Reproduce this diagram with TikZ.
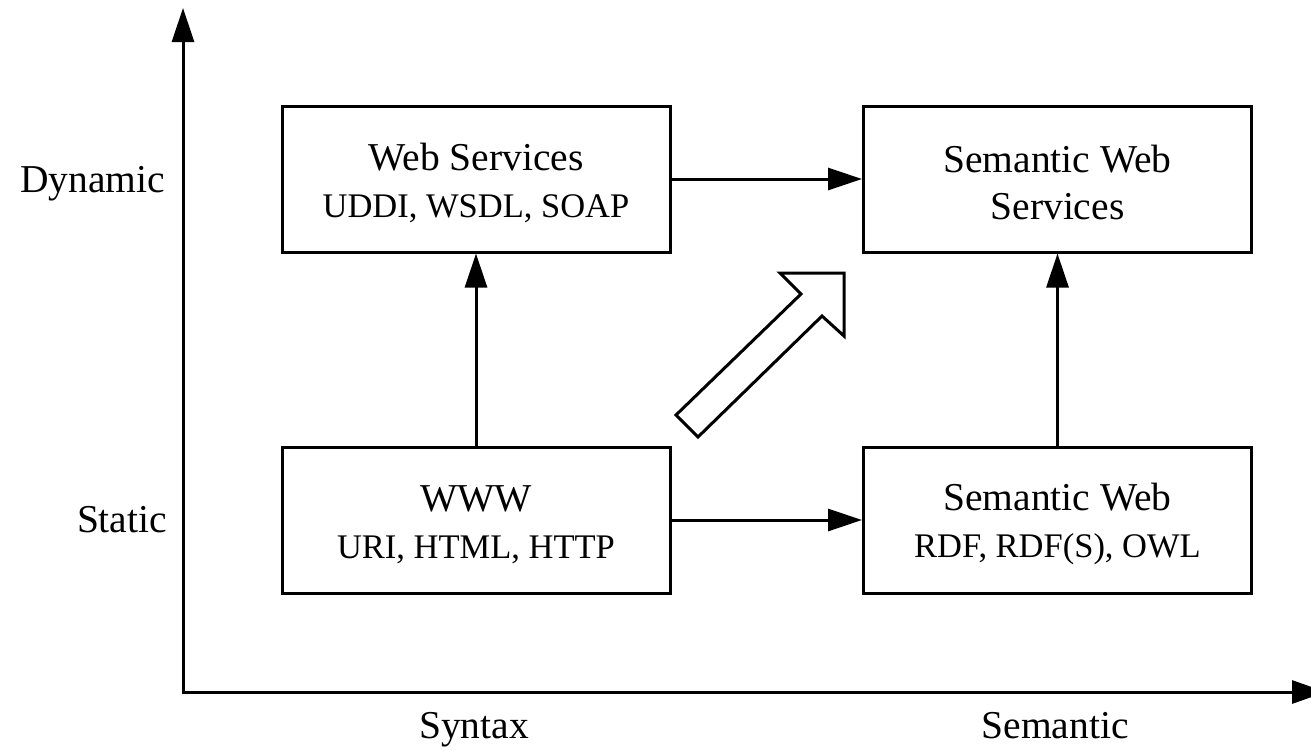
\documentclass[tikz,border=0pt]{standalone}
\usepackage{fontspec}
\setmainfont{Liberation Serif}
\usetikzlibrary{arrows.meta}

% tall strut for the first line of a box label
\newcommand{\topstrut}{\rule{0pt}{35pt}}

\begin{document}
\begin{tikzpicture}[x=1pt,y=-1pt,
  box/.style={draw, line width=3pt, minimum width=388pt, minimum height=146pt,
    inner sep=0pt, align=center, font=\fontsize{39.5}{47}\selectfont},
  conn/.style={line width=3pt, -{Triangle[length=34pt,width=22pt]}},
  axis/.style={line width=3pt, {Triangle[length=34pt,width=22pt]}-{Triangle[length=34pt,width=23pt]}},
  lbl/.style={anchor=base, inner sep=0pt, font=\fontsize{39.5}{47}\selectfont},
  bigarrow/.style={draw, line width=3pt, fill=white, line join=miter}
]
\useasboundingbox (0,0) rectangle (1311,750);

% axes
\coordinate (O) at (183,692);
\coordinate (ytop) at (183,8);
\coordinate (xend) at (1326,692);
\draw[axis] (ytop) -- (O) -- (xend);

% axis labels
\node[lbl] (dyn) at (92.5,192) {Dynamic};
\node[lbl] (sta) at (122,532) {Static};
\node[lbl] (syn) at (474,738) {Syntax};
\node[lbl] (sem) at (1055,738) {Semantic};

% boxes
\node[box] (ws)  at (476,179)    {\topstrut Web Services\\{\fontsize{34.5}{47}\selectfont UDDI, WSDL, SOAP}};
\node[box] (sws) at (1057.5,179) {\topstrut Semantic Web\\Services};
\node[box] (www) at (476,520)    {\topstrut WWW\\{\fontsize{34.5}{47}\selectfont URI, HTML, HTTP}};
\node[box] (sw)  at (1057.5,520) {\topstrut Semantic Web\\{\fontsize{34.5}{47}\selectfont RDF, RDF(S), OWL}};

% connectors
\draw[conn] (ws) -- (sws);
\draw[conn] (www) -- (sw);
\draw[conn] (www) -- (ws);
\draw[conn] (sw) -- (sws);

% hollow block arrow
\draw[bigarrow] (676,415) -- (801,294) -- (780,273) -- (844,273) -- (844,336)
  -- (822,316) -- (698,437) -- cycle;
\end{tikzpicture}
\end{document}
